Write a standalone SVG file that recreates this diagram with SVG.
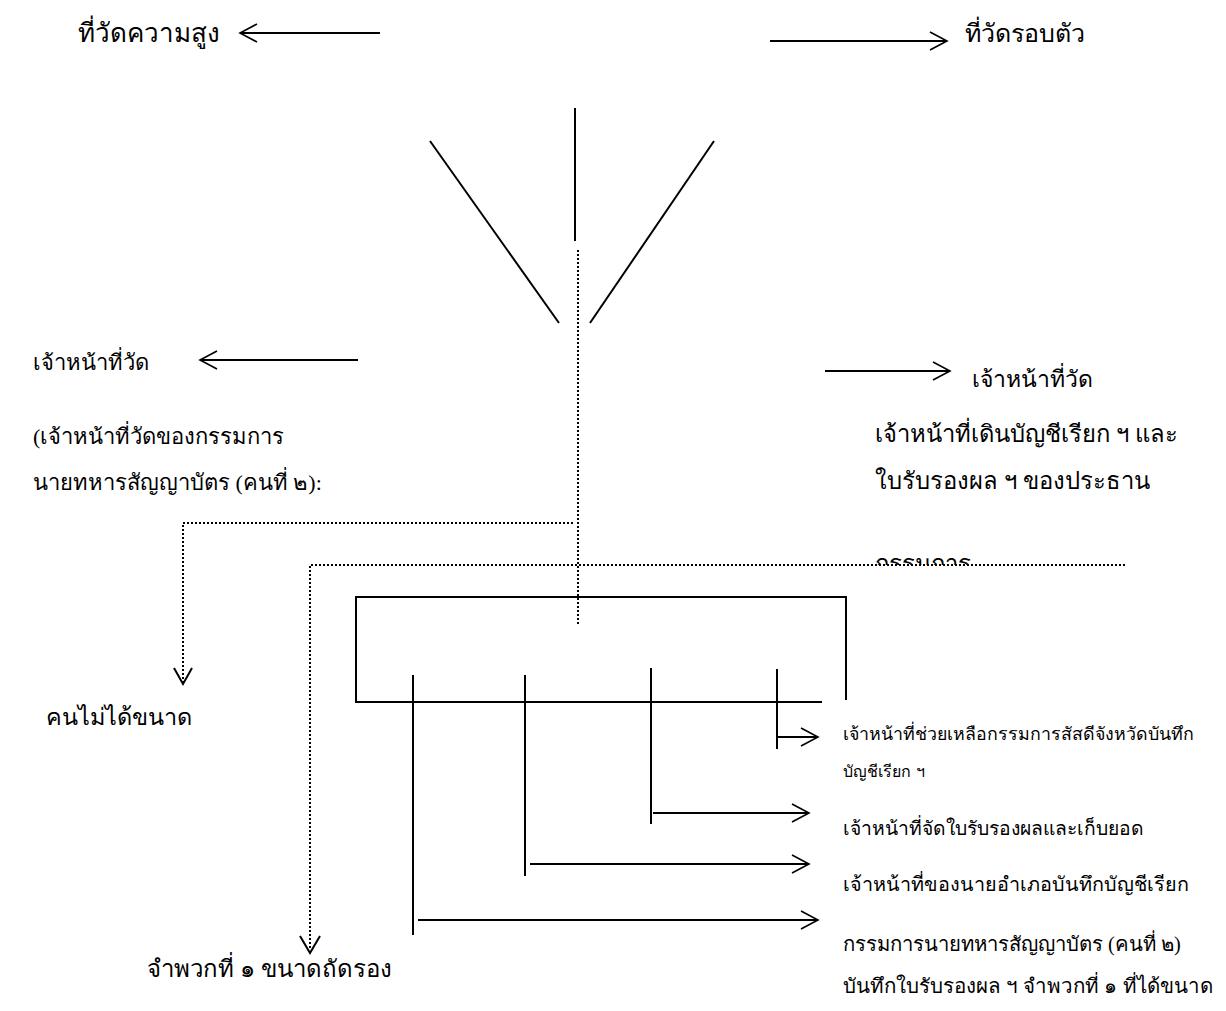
<svg xmlns="http://www.w3.org/2000/svg" width="1226" height="1011" viewBox="0 0 1226 1011">
<defs>
<marker id="arr" markerWidth="20" markerHeight="24" refX="18" refY="10" orient="auto" markerUnits="userSpaceOnUse" viewBox="0 0 20 20">
<path d="M1,1 L18,10 L1,19" fill="none" stroke="#000" stroke-width="1.6"/>
</marker>
<clipPath id="clipG"><rect x="860" y="530" width="320" height="35"/></clipPath>
</defs>
<style>
.t{font-family:"Liberation Serif","Noto Sans CJK SC",serif;font-size:22px;fill:#000}
.s{font-family:"DejaVu Sans","Noto Sans",sans-serif;font-size:17.8px;fill:#000}
.l{stroke:#000;stroke-width:2;fill:none}
.d{stroke:#000;stroke-width:2;stroke-dasharray:2 2;fill:none}
</style>
<rect width="1226" height="1011" fill="#fff"/>
<g id="connectors">
<line class="l" x1="380" y1="33" x2="240" y2="33" marker-end="url(#arr)"/>
<line class="l" x1="770" y1="41" x2="947" y2="41" marker-end="url(#arr)"/>
<line class="l" x1="430" y1="141" x2="559" y2="323"/>
<line class="l" x1="575" y1="108" x2="575" y2="241"/>
<line class="l" x1="714" y1="141" x2="590" y2="323"/>
<line class="l" x1="358" y1="360" x2="200" y2="360" marker-end="url(#arr)"/>
<line class="l" x1="825" y1="371" x2="950" y2="371" marker-end="url(#arr)"/>
<line class="d" x1="578" y1="250" x2="578" y2="625"/>
<polyline class="d" points="573,523 183,523 183,684"/>
<path class="l" d="M174,668 L183,684 L192,668" stroke-width="1.6"/>
<polyline class="d" points="1125,565 310,565 310,950"/>
<path class="l" d="M300,936 L310,953 L320,936" stroke-width="1.6"/>
<polyline class="l" points="822,702 356,702 356,597 846,597 846,700"/>
<line class="l" x1="413" y1="675" x2="413" y2="935"/>
<line class="l" x1="525" y1="675" x2="525" y2="876"/>
<line class="l" x1="651" y1="668" x2="651" y2="824"/>
<line class="l" x1="777" y1="669" x2="777" y2="749"/>
<line class="l" x1="777" y1="737" x2="818" y2="737" marker-end="url(#arr)"/>
<line class="l" x1="653" y1="813" x2="809" y2="813" marker-end="url(#arr)"/>
<line class="l" x1="530" y1="864" x2="809" y2="864" marker-end="url(#arr)"/>
<line class="l" x1="418" y1="920" x2="818" y2="920" marker-end="url(#arr)"/>
</g>
<g id="n-height"><text class="t" x="78" y="42" style="font-size:26px">ที่วัดความสูง</text></g>
<g id="n-chest"><text class="t" x="965" y="42" style="font-size:25px">ที่วัดรอบตัว</text></g>
<g id="n-measure-left"><text class="t" x="33" y="370" style="font-size:22px">เจ้าหน้าที่วัด</text></g>
<g id="n-measure-left-note"><text class="t" x="33" y="444">(เจ้าหน้าที่วัดของกรรมการ</text><text class="t" x="33" y="490">นายทหารสัญญาบัตร (คนที่ ๒):</text></g>
<g id="n-measure-right"><text class="t" x="972" y="387" style="font-size:23px">เจ้าหน้าที่วัด</text></g>
<g id="n-walk"><text class="t" x="875" y="442" style="font-size:23.8px">เจ้าหน้าที่เดินบัญชีเรียก ฯ และ</text><text class="t" x="875" y="489" style="font-size:23.8px">ใบรับรองผล ฯ ของประธาน</text><text class="t" x="875" y="572" style="font-size:23.8px" clip-path="url(#clipG)">กรรมการ</text></g>
<g id="n-unfit"><text class="t" x="46" y="725" style="font-size:23.5px">คนไม่ได้ขนาด</text></g>
<g id="n-class1b"><text class="t" x="147" y="977" style="font-size:24px">จำพวกที่ ๑ ขนาดถัดรอง</text></g>
<g id="n-assist"><text class="s" x="843" y="740">เจ้าหน้าที่ช่วยเหลือกรรมการสัสดีจังหวัดบันทึก</text><text class="s" x="843" y="777" style="font-size:16px">บัญชีเรียก ฯ</text></g>
<g id="n-cert"><text class="t" x="843" y="835" style="font-size:19.3px">เจ้าหน้าที่จัดใบรับรองผลและเก็บยอด</text></g>
<g id="n-district"><text class="t" x="843" y="891" style="font-size:19.8px">เจ้าหน้าที่ของนายอำเภอบันทึกบัญชีเรียก</text></g>
<g id="n-officer"><text class="t" x="843" y="951" style="font-size:20.3px">กรรมการนายทหารสัญญาบัตร (คนที่ ๒)</text><text class="t" x="843" y="993" style="font-size:20.5px">บันทึกใบรับรองผล ฯ  จำพวกที่ ๑ ที่ได้ขนาด</text></g>
</svg>
